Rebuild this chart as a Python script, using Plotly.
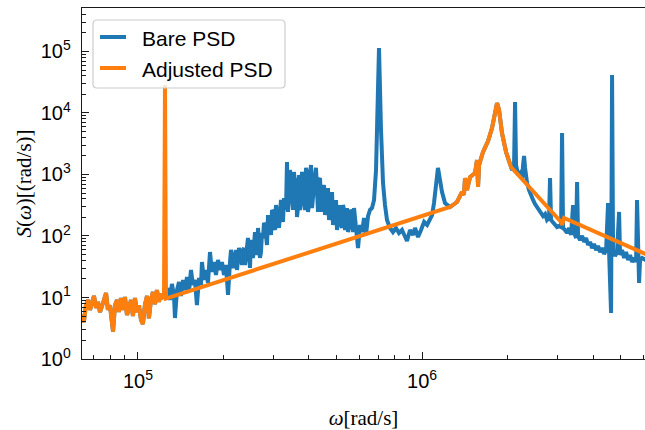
import plotly.graph_objects as go

# ---------------- data ----------------
# low-frequency noise floor shared by both spectra (rad/s, PSD)
floor_omega = [6.30e4, 6.45e4, 6.56e4, 6.67e4, 6.78e4, 6.89e4, 7.00e4, 7.12e4, 7.23e4, 7.35e4,
               7.47e4, 7.59e4, 7.72e4, 7.84e4, 7.97e4, 8.10e4, 8.17e4, 8.30e4, 8.44e4, 8.57e4,
               8.71e4, 8.86e4, 9.00e4, 9.15e4, 9.30e4, 9.45e4, 9.60e4, 9.76e4, 9.92e4, 1.008e5,
               1.025e5, 1.041e5, 1.058e5, 1.076e5, 1.093e5, 1.111e5, 1.129e5, 1.148e5, 1.166e5,
               1.185e5, 1.205e5, 1.225e5, 1.235e5]
floor_S = [5.2, 4.0, 7.5, 9.1, 6.3, 8.1, 10.6, 6.8, 8.5, 5.8,
           7.8, 9.1, 11.8, 6.3, 7.5, 4.6, 2.8, 7.5, 9.1, 5.8,
           9.8, 6.3, 10.2, 5.2, 7.5, 9.1, 5.0, 9.8, 5.8, 7.5,
           4.3, 3.7, 7.5, 10.6, 4.6, 9.1, 12.3, 7.8, 13.2,
           8.5, 11.4, 10.2, 10.6]

# bare PSD between the floor and the main resonance
bare_mid_omega = [1.255e5, 1.276e5, 1.296e5, 1.317e5, 1.339e5, 1.350e5, 1.372e5, 1.395e5, 1.417e5, 1.441e5,
                  1.464e5, 1.488e5, 1.512e5, 1.537e5, 1.562e5, 1.587e5, 1.613e5, 1.640e5, 1.667e5, 1.680e5,
                  1.708e5, 1.736e5, 1.764e5, 1.793e5, 1.822e5, 1.852e5, 1.882e5, 1.913e5, 1.944e5, 1.976e5,
                  2.008e5, 2.041e5, 2.075e5, 2.109e5, 2.143e5, 2.178e5, 2.214e5, 2.250e5, 2.287e5, 2.324e5,
                  2.362e5, 2.401e5, 2.440e5, 2.480e5, 2.521e5, 2.562e5, 2.604e5, 2.646e5, 2.689e5, 2.733e5,
                  2.778e5, 2.824e5, 2.870e5, 2.917e5, 2.964e5, 3.013e5, 3.062e5, 3.112e5, 3.162e5, 3.214e5,
                  3.267e5, 3.320e5, 3.347e5, 3.402e5, 3.457e5, 3.514e5, 3.571e5, 3.630e5, 3.689e5, 3.749e5,
                  3.811e5, 3.873e5, 3.936e5, 4.001e5, 4.066e5, 4.132e5, 4.200e5, 4.269e5, 4.339e5, 4.409e5,
                  4.481e5, 4.555e5, 4.629e5, 4.705e5, 4.782e5, 4.860e5, 4.940e5, 5.020e5, 5.102e5, 5.186e5,
                  5.271e5, 5.357e5, 5.444e5, 5.533e5, 5.624e5, 5.716e5, 5.810e5, 5.905e5, 5.953e5, 6.050e5,
                  6.149e5, 6.250e5, 6.352e5, 6.456e5, 6.561e5, 6.669e5, 6.778e5, 6.888e5, 6.944e5, 7.056e5,
                  7.172e5, 7.289e5, 7.407e5, 7.529e5, 7.714e5, 7.903e5, 8.099e5, 8.298e5, 8.502e5, 8.712e5,
                  8.854e5, 9.073e5, 9.297e5, 9.449e5, 9.682e5, 9.920e5, 1.017e6, 1.042e6, 1.067e6, 1.085e6,
                  1.102e6, 1.120e6, 1.138e6, 1.157e6, 1.176e6, 1.205e6, 1.235e6]
bare_mid_S = [9.8, 14.3, 9.1, 16.6, 10.6, 4.64, 13.2, 17.9, 10.6, 19.3,
              13.2, 21.5, 12.3, 28.0, 16.0, 19.3, 7.55, 20.8, 16.0, 37.8,
              19.3, 28.0, 17.2, 54.9, 26.0, 37.8, 23.2, 40.7, 28.0, 37.8,
              23.2, 33.8, 11.0, 37.8, 49.1, 33.8, 59.2, 37.8, 54.9, 33.8,
              63.8, 43.9, 92.8, 30.2, 71.4, 104, 63.8, 135, 43.9, 112,
              163, 86.1, 219, 135, 265, 151, 319, 196, 319, 219,
              415, 265, 1600, 464, 877, 265, 675, 204, 981, 385,
              814, 265, 1100, 319, 1430, 464, 981, 319, 814, 385,
              560, 219, 464, 182, 385, 151, 319, 125, 265, 151,
              319, 125, 285, 140, 246, 116, 211, 104, 63.8, 151,
              116, 196, 104, 211, 265, 285, 385, 1180, 5300, 1.14e5,
              5300, 728, 319, 182, 135, 116, 135, 112, 125, 100,
              83, 125, 104, 135, 96.3, 125, 169, 151, 182, 219,
              344, 814, 1280, 814, 519, 344, 308]

# extra samples of the noisy band (between the samples above)
bare_band_omega = [2.126e5, 2.161e5, 2.196e5, 2.232e5, 2.268e5, 2.306e5, 2.343e5, 2.381e5, 2.420e5, 2.460e5,
                   2.500e5, 2.541e5, 2.582e5, 2.624e5, 2.667e5, 2.711e5, 2.755e5, 2.800e5, 2.846e5, 2.892e5,
                   2.940e5, 2.988e5, 3.037e5, 3.086e5, 3.137e5, 3.188e5, 3.240e5, 3.293e5,
                   3.375e5, 3.429e5, 3.485e5, 3.542e5, 3.600e5, 3.659e5, 3.719e5, 3.780e5, 3.842e5, 3.905e5,
                   3.968e5, 4.033e5, 4.100e5, 4.166e5, 4.234e5, 4.304e5, 4.374e5, 4.446e5, 4.518e5, 4.592e5,
                   4.667e5, 4.744e5, 4.822e5, 4.900e5, 4.981e5, 5.062e5, 5.144e5, 5.228e5, 5.314e5, 5.401e5,
                   5.489e5, 5.579e5, 5.670e5, 5.763e5, 5.857e5]
bare_band_S = [59.2, 30.2, 54.9, 28.0, 63.8, 37.8, 59.2, 33.8, 71.4, 49.1,
               86.1, 43.9, 116, 49.1, 86.1, 54.9, 92.8, 151, 71.4, 169,
               104, 246, 125, 265, 135, 385, 169, 319,
               246, 1180, 385, 1100, 877, 285, 265, 1100, 385, 1280,
               246, 877, 285, 675, 1280, 246, 877, 246, 675, 385,
               603, 265, 519, 196, 385, 169, 319, 135, 265, 219,
               116, 265, 169, 285, 135]

# main resonance, common to both spectra
res_omega = [1.255e6, 1.328e6, 1.383e6, 1.405e6, 1.417e6, 1.440e6, 1.476e6, 1.537e6, 1.562e6, 1.575e6,
             1.588e6, 1.640e6, 1.708e6, 1.764e6, 1.807e6, 1.837e6, 1.867e6, 1.912e6, 1.976e6, 2.058e6]
res_S = [296, 357, 519, 464, 877, 560, 910, 1060, 1720, 627,
         1430, 2320, 3500, 5700, 1.04e4, 1.45e4, 1.12e4, 4730, 2320, 1320]

# bare PSD high-frequency tail
bare_tail_omega = [2.075e6, 2.109e6, 2.126e6, 2.143e6, 2.178e6, 2.214e6, 2.250e6, 2.269e6, 2.287e6, 2.306e6,
                   2.343e6, 2.381e6, 2.420e6, 2.460e6, 2.500e6, 2.541e6, 2.583e6, 2.625e6, 2.668e6, 2.712e6,
                   2.755e6, 2.800e6, 2.823e6, 2.846e6, 2.893e6, 2.940e6, 2.988e6, 3.037e6, 3.087e6, 3.112e6,
                   3.137e6, 3.188e6, 3.241e6, 3.294e6, 3.347e6, 3.402e6, 3.430e6, 3.486e6, 3.515e6, 3.543e6,
                   3.601e6, 3.660e6, 3.720e6, 3.781e6, 3.843e6, 3.905e6, 3.969e6, 4.034e6, 4.100e6, 4.167e6,
                   4.236e6, 4.305e6, 4.375e6, 4.447e6, 4.519e6, 4.556e6, 4.630e6, 4.667e6, 4.705e6, 4.782e6,
                   4.860e6, 4.940e6, 4.980e6, 5.061e6, 5.144e6, 5.228e6, 5.314e6, 5.401e6, 5.489e6, 5.579e6,
                   5.670e6, 5.715e6, 5.762e6, 5.809e6, 5.856e6, 5.952e6, 6.30e6]
bare_tail_S = [1180, 1430, 1.51e4, 1430, 981, 1060, 877, 1430, 2000, 1280,
               728, 560, 447, 385, 331, 296, 265, 246, 211, 228,
               182, 196, 877, 182, 163, 151, 140, 145, 140, 4730,
               135, 125, 112, 135, 104, 319, 116, 92.8, 755, 100,
               86.1, 100, 79.9, 92.8, 71.4, 79.9, 63.8, 74.1, 59.2, 68.8,
               54.9, 63.8, 51.0, 59.2, 344, 54.9, 5.6, 4.15e4, 59.2, 47.3,
               54.9, 246, 49.1, 59.2, 43.9, 54.9, 40.7, 49.1, 37.8, 43.9,
               37.8, 385, 37.8, 17.2, 40.7, 43.9, 38]

# adjusted PSD pieces: notch spike, power-law bridge, high-frequency fit
adj_spike_omega = [1.245e5]
adj_spike_S = [2.85e4]
adj_bridge_omega = [1.255e5]
adj_bridge_S = [9.6]
adj_tail_omega = [3.087e6, 3.112e6, 3.162e6, 6.30e6]
adj_tail_S = [169, 151, 196, 48]

mid_pairs = sorted(zip(bare_mid_omega + bare_band_omega, bare_mid_S + bare_band_S))
bare_omega = floor_omega + [p[0] for p in mid_pairs] + res_omega + bare_tail_omega
bare_S = floor_S + [p[1] for p in mid_pairs] + res_S + bare_tail_S
adj_omega = floor_omega + adj_spike_omega + adj_bridge_omega + res_omega + adj_tail_omega
adj_S = floor_S + adj_spike_S + adj_bridge_S + res_S + adj_tail_S

series_names = ["Bare PSD", "Adjusted PSD"]
series_colors = ["#1f77b4", "#ff7f0e"]

y_major = [1, 10, 100, 1000, 1e4, 1e5]
y_major_text = ["10<sup>0</sup>", "10<sup>1</sup>", "10<sup>2</sup>", "10<sup>3</sup>",
                "10<sup>4</sup>", "10<sup>5</sup>"]
x_major = [1e5, 1e6]
x_major_text = ["10<sup>5</sup>", "10<sup>6</sup>"]
minor_digits = [2, 3, 4, 5, 6, 7, 8, 9]
y_minor = [d * 10 ** e for e in range(0, 6) for d in minor_digits]
x_minor = [d * 10 ** e for e in range(4, 7) for d in minor_digits]

# ---------------- figure ----------------
W, H = 645, 430
ML, MR, MT, MB = 82, 0, 8, 71
PW, PH = W - ML - MR, H - MT - MB


def fx(px):  # pixel column -> paper fraction
    return (px - ML) / PW


def fy(py):  # pixel row -> paper fraction
    return (H - MB - py) / PH


fig = go.Figure()
for xs, ys, name, col in [(bare_omega, bare_S, series_names[0], series_colors[0]),
                          (adj_omega, adj_S, series_names[1], series_colors[1])]:
    fig.add_trace(go.Scatter(x=xs, y=ys, mode="lines", name=name, showlegend=False,
                             line=dict(color=col, width=4)))

# legend drawn as a rounded box, line samples and text
bx0, bx1, by0, by1, rad = 93, 285, 20, 88, 4
path = (f"M {fx(bx0 + rad)},{fy(by0)} L {fx(bx1 - rad)},{fy(by0)} "
        f"Q {fx(bx1)},{fy(by0)} {fx(bx1)},{fy(by0 + rad)} L {fx(bx1)},{fy(by1 - rad)} "
        f"Q {fx(bx1)},{fy(by1)} {fx(bx1 - rad)},{fy(by1)} L {fx(bx0 + rad)},{fy(by1)} "
        f"Q {fx(bx0)},{fy(by1)} {fx(bx0)},{fy(by1 - rad)} L {fx(bx0)},{fy(by0 + rad)} "
        f"Q {fx(bx0)},{fy(by0)} {fx(bx0 + rad)},{fy(by0)} Z")
shapes = [dict(type="path", xref="paper", yref="paper", path=path,
               fillcolor="rgba(255,255,255,0.8)", line=dict(color="#cccccc", width=1.2))]
annotations = []
legend_font = dict(family="Liberation Sans, Arial, sans-serif", size=21, color="black")
for row_y, name, col in [(37, series_names[0], series_colors[0]), (68, series_names[1], series_colors[1])]:
    shapes.append(dict(type="line", xref="paper", yref="paper", x0=fx(100), x1=fx(126),
                       y0=fy(row_y), y1=fy(row_y), line=dict(color=col, width=4)))
    annotations.append(dict(text=name, xref="paper", yref="paper", x=fx(140), y=fy(row_y + 1),
                            xanchor="left", yanchor="middle", showarrow=False, font=legend_font))

axis_color = "#1a1a1a"
tick_font = dict(family="Liberation Sans, Arial, sans-serif", size=20, color="black")
title_font = dict(family="Liberation Serif, Times New Roman, serif", size=21, color="black")

fig.update_layout(
    width=W, height=H,
    margin=dict(l=ML, r=MR, t=MT, b=MB),
    paper_bgcolor="white", plot_bgcolor="white",
    showlegend=False,
    shapes=shapes, annotations=annotations,
    xaxis=dict(type="log", range=[4.803, 6.785], showgrid=False, zeroline=False,
               showline=True, linecolor=axis_color, linewidth=1.4, mirror=True,
               tickmode="array", tickvals=x_major, ticktext=x_major_text,
               ticks="inside", ticklen=7, tickwidth=1.3, tickcolor=axis_color,
               tickfont=tick_font, ticklabelstandoff=4,
               minor=dict(tickmode="array", tickvals=x_minor, ticks="inside", ticklen=4,
                          tickwidth=1.1, tickcolor=axis_color, showgrid=False),
               title=dict(text="<i>ω</i>[rad/s]", font=title_font, standoff=19)),
    yaxis=dict(type="log", range=[0, 5.707], showgrid=False, zeroline=False,
               showline=True, linecolor=axis_color, linewidth=1.4, mirror=False,
               tickmode="array", tickvals=y_major, ticktext=y_major_text,
               ticks="inside", ticklen=7, tickwidth=1.3, tickcolor=axis_color,
               tickfont=tick_font, ticklabelstandoff=6,
               minor=dict(tickmode="array", tickvals=y_minor, ticks="inside", ticklen=4,
                          tickwidth=1.1, tickcolor=axis_color, showgrid=False),
               title=dict(text="<i>S</i>(<i>ω</i>)[(rad/s)]", font=title_font, standoff=3)),
)

fig.write_html("out.html")
